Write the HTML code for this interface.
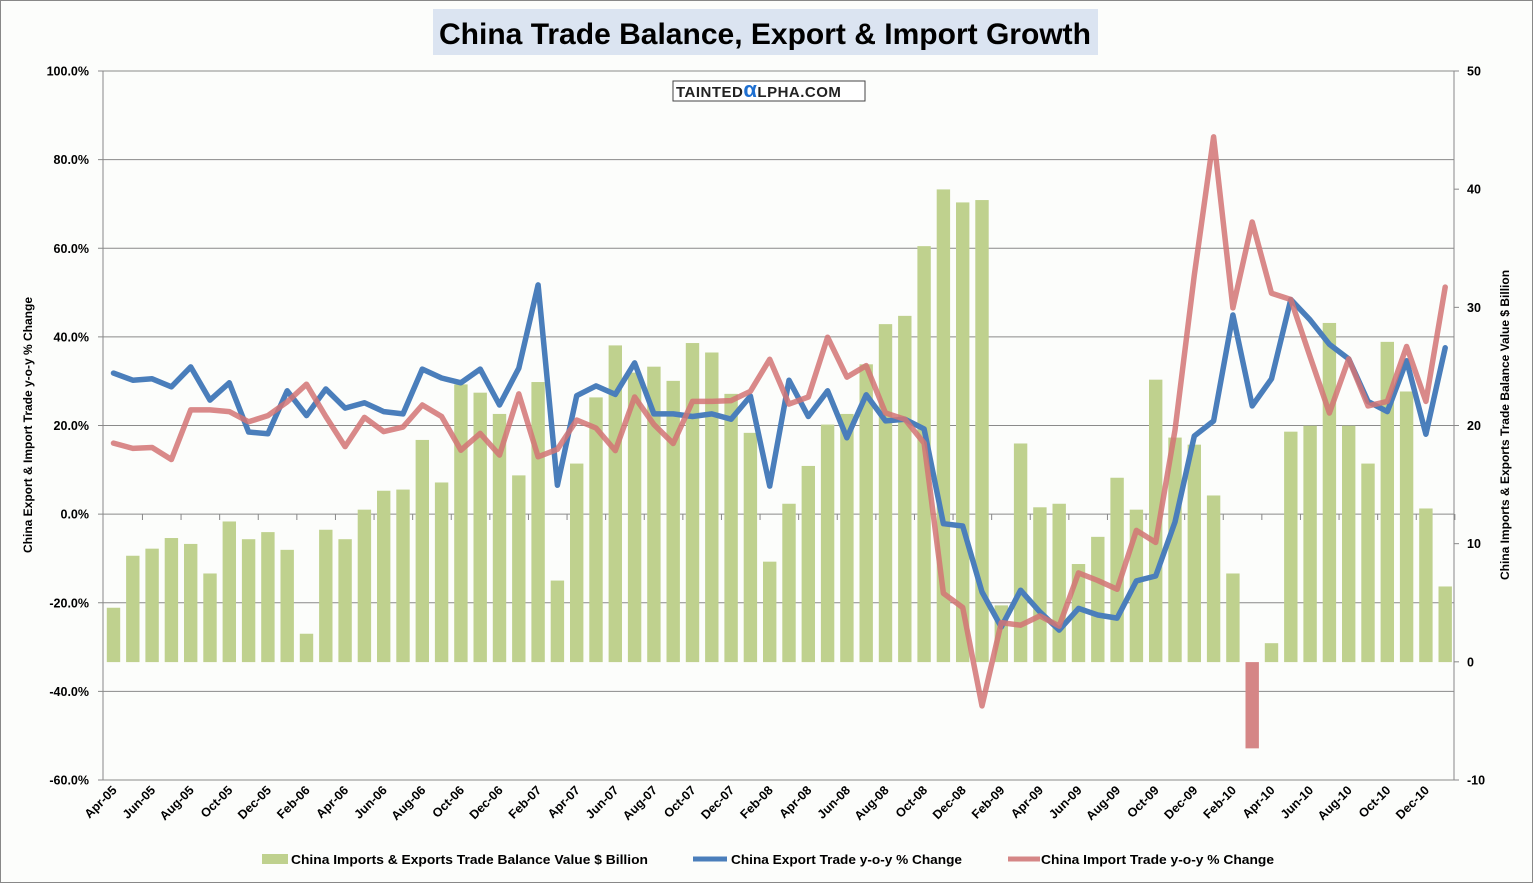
<!DOCTYPE html>
<html><head><meta charset="utf-8"><style>
html,body{margin:0;padding:0;background:#fff;}
svg{display:block;font-family:"Liberation Sans",sans-serif;}
</style></head><body>
<svg id="c" width="1533" height="883" xmlns="http://www.w3.org/2000/svg">
<rect x="0.5" y="0.5" width="1532" height="882" fill="#fcfdfb" stroke="#888"/>
<rect x="433" y="9" width="665" height="46" fill="#dbe4f1"/>
<text x="765" y="44" text-anchor="middle" font-size="30" font-weight="bold" fill="#000" textLength="652" lengthAdjust="spacingAndGlyphs">China Trade Balance, Export &amp; Import Growth</text>
<g id="plot"></g>
<rect x="673" y="81" width="192" height="20" fill="#fff" stroke="#444"/>
<text x="676" y="97" font-size="15" font-weight="bold" fill="#222" letter-spacing="0.5">TAINTED<tspan fill="#1e6fd0" font-size="22">α</tspan>LPHA.COM</text>
<text transform="translate(32,425) rotate(-90)" text-anchor="middle" font-size="12" font-weight="bold">China Export &amp; Import Trade y-o-y % Change</text>
<text transform="translate(1509,425) rotate(-90)" text-anchor="middle" font-size="12" font-weight="bold">China Imports &amp; Exports Trade Balance Value $ Billion</text>
<rect x="262" y="854" width="26" height="10" fill="#bfd18e"/>
<text x="291" y="864" font-size="13" font-weight="bold" textLength="357" lengthAdjust="spacingAndGlyphs">China Imports &amp; Exports Trade Balance Value $ Billion</text>
<line x1="693" y1="859" x2="727" y2="859" stroke="#4a7ebb" stroke-width="5"/>
<text x="731" y="864" font-size="13" font-weight="bold" textLength="231" lengthAdjust="spacingAndGlyphs">China Export Trade y-o-y % Change</text>
<line x1="1008" y1="859" x2="1040" y2="859" stroke="#d58686" stroke-width="5"/>
<text x="1041" y="864" font-size="13" font-weight="bold" textLength="233" lengthAdjust="spacingAndGlyphs">China Import Trade y-o-y % Change</text>
</svg>
<script>
var L=103,R=1454,T=71,B=780;
function yl(v){return 514-(v)*4.43125;}
function yr(v){return 662.1-v*11.817;}
function xi(i){return 113.5+i*19.3;}
var bars=[4.6,9.0,9.6,10.5,10.0,7.5,11.9,10.4,11.0,9.5,2.4,11.2,10.4,12.9,14.5,14.6,18.8,15.2,23.5,22.8,21.0,15.8,23.7,6.9,
16.8,22.4,26.8,24.5,25.0,23.8,27.0,26.2,22.7,19.4,8.5,13.4,16.6,20.1,21.0,25.2,28.6,29.3,35.2,40.0,38.9,39.1,4.8,
18.5,13.1,13.4,8.3,10.6,15.6,12.9,23.9,19.0,18.4,14.1,7.5,-7.3,1.6,19.5,20.0,28.7,20.0,16.8,27.1,22.9,13.0,6.4];
var blue=[31.8,30.2,30.5,28.7,33.2,25.7,29.6,18.5,18.1,27.8,22.2,28.2,23.9,25.1,23.1,22.6,32.7,30.7,29.6,32.7,24.6,32.9,51.7,6.5,
26.7,28.9,27.0,34.1,22.6,22.6,22.0,22.6,21.4,26.6,6.3,30.2,22.0,27.8,17.2,26.9,21.0,21.4,19.2,-2.2,-2.7,-17.6,-25.5,
-17.2,-22.1,-26.2,-21.3,-22.8,-23.5,-15.1,-14.0,-1.8,17.6,21.0,44.9,24.4,30.5,48.4,43.8,38.3,35.0,25.4,23.1,34.6,18.0,37.5];
var red=[16.0,14.8,15.0,12.3,23.5,23.5,23.1,20.8,22.2,25.3,29.3,22.0,15.2,21.8,18.6,19.6,24.6,22.0,14.4,18.2,13.3,27.1,12.9,14.6,
21.2,19.4,14.3,26.4,20.2,15.9,25.4,25.4,25.6,27.7,34.9,24.8,26.4,39.9,30.9,33.5,22.8,21.4,16.0,-17.9,-21.1,-43.3,-24.5,
-25.1,-23.0,-25.3,-13.3,-15.0,-17.0,-3.7,-6.4,18.9,53.9,85.1,46.5,65.9,49.8,48.4,35.5,22.8,35.0,24.4,25.4,37.8,25.4,51.2];
var mon=["Jan","Feb","Mar","Apr","May","Jun","Jul","Aug","Sep","Oct","Nov","Dec"];
var s='';
for(var k=0;k<=8;k++){var y=T+k*(B-T)/8;s+='<line x1="'+L+'" y1="'+y+'" x2="'+R+'" y2="'+y+'" stroke="#8a8a8a" stroke-width="1"/>';
 var v=100-k*20;s+='<text x="89" y="'+(y+4.5)+'" text-anchor="end" font-size="12.5" font-weight="bold">'+v.toFixed(1)+'%</text>';
 s+='<line x1="'+(L-5)+'" y1="'+y+'" x2="'+L+'" y2="'+y+'" stroke="#888"/>';}
for(var k=0;k<=6;k++){var y=T+k*(B-T)/6;var v=50-k*10;
 s+='<line x1="'+R+'" y1="'+y+'" x2="'+(R+5)+'" y2="'+y+'" stroke="#888"/>';
 s+='<text x="1467" y="'+(y+4.5)+'" font-size="12.5" font-weight="bold">'+v+'</text>';}
s+='<line x1="'+L+'" y1="'+T+'" x2="'+L+'" y2="'+B+'" stroke="#888"/>';
s+='<line x1="'+R+'" y1="'+T+'" x2="'+R+'" y2="'+B+'" stroke="#888"/>';
for(var i=0;i<bars.length;i++){var v=bars[i];var y0=yr(0),y1=yr(v);
 var col=v<0?'#d58686':'#bfd18e';
 s+='<rect x="'+(xi(i)-6.7)+'" y="'+Math.min(y0,y1)+'" width="13.4" height="'+Math.abs(y1-y0)+'" fill="'+col+'"/>';}
for(var i=1;i<70;i+=2){var x=xi(i)+9.65;s+='<line x1="'+x+'" y1="514" x2="'+x+'" y2="520" stroke="#888"/>';}
for(var i=0;i<70;i+=2){var m=(3+i)%12,yr2=5+Math.floor((3+i)/12);
 var lab=mon[m]+'-'+(yr2<10?'0'+yr2:yr2);var x=xi(i)+4,y=791;
 s+='<text transform="translate('+x+','+y+') rotate(-45)" text-anchor="end" font-size="12.5" font-weight="bold">'+lab+'</text>';}
function pl(a,c,op){var p=a.map(function(v,i){return xi(i).toFixed(1)+','+yl(v).toFixed(1)}).join(' ');
 return '<polyline points="'+p+'" fill="none" stroke="'+c+'" stroke-width="5.5" stroke-linejoin="round" stroke-linecap="round" opacity="'+op+'"/>';}
s+=pl(blue,'#4a7ebb',1);
s+=pl(red,'#d27474',0.85);
document.getElementById('plot').innerHTML=s;
</script>
</body></html>
